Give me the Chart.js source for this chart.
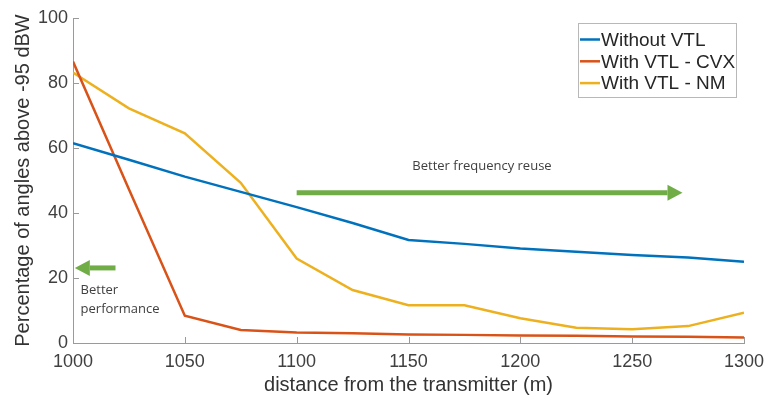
<!DOCTYPE html>
<html>
<head>
<meta charset="utf-8">
<script src="https://cdn.jsdelivr.net/npm/chart.js@4.4.1/dist/chart.umd.min.js"></script>
<style>
  html, body { margin: 0; padding: 0; background: #fff; }
  #wrap { width: 767px; height: 397px; position: relative; }
</style>
</head>
<body>
<div id="wrap"><canvas id="chart"></canvas></div>
<script>
const distances = [1000, 1025, 1050, 1075, 1100, 1125, 1150, 1175, 1200, 1225, 1250, 1275, 1300];
const withoutVtl = [61.5, 56.4, 51.2, 46.5, 41.8, 36.9, 31.7, 30.5, 29.1, 28.1, 27.1, 26.3, 25.0];
const vtlCvx = [86.6, 47.3, 8.4, 4.0, 3.2, 3.0, 2.6, 2.5, 2.3, 2.2, 2.0, 1.9, 1.7];
const vtlNm = [83.2, 72.2, 64.5, 49.3, 26.0, 16.3, 11.6, 11.6, 7.6, 4.7, 4.2, 5.2, 9.3];

const seriesNames = ['Without VTL', 'With VTL - CVX', 'With VTL - NM'];
const seriesColors = ['#0072BD', '#D95319', '#EDB120'];
const xTicks = [1000, 1050, 1100, 1150, 1200, 1250, 1300];
const yTicks = [0, 20, 40, 60, 80, 100];

const axisFont = 'Arial, "Liberation Sans", sans-serif';
const noteFont = '"Open Sans", "Noto Sans", sans-serif';

function toPoints(values) {
  return distances.map((d, i) => ({ x: d, y: values[i] }));
}

// inward tick marks, like matlab
const innerTicks = {
  id: 'innerTicks',
  afterDraw(chart) {
    const { ctx, chartArea, scales } = chart;
    ctx.save();
    ctx.strokeStyle = '#9a9a9a';
    ctx.lineWidth = 1;
    ctx.beginPath();
    xTicks.forEach((v) => {
      const px = Math.round(scales.x.getPixelForValue(v)) + 0.5;
      ctx.moveTo(px, chartArea.bottom);
      ctx.lineTo(px, chartArea.bottom - 6);
    });
    yTicks.forEach((v) => {
      const py = Math.round(scales.y.getPixelForValue(v)) + 0.5;
      ctx.moveTo(chartArea.left, py);
      ctx.lineTo(chartArea.left + 6, py);
    });
    ctx.stroke();
    ctx.restore();
  }
};

function arrow(ctx, x1, y, x2, color) {
  const dir = x2 > x1 ? 1 : -1;
  const head = 15;
  ctx.save();
  ctx.strokeStyle = color;
  ctx.fillStyle = color;
  ctx.lineWidth = 5;
  ctx.beginPath();
  ctx.moveTo(x1, y);
  ctx.lineTo(x2 - dir * head, y);
  ctx.stroke();
  ctx.beginPath();
  ctx.moveTo(x2, y);
  ctx.lineTo(x2 - dir * head, y - 8);
  ctx.lineTo(x2 - dir * head, y + 8);
  ctx.closePath();
  ctx.fill();
  ctx.restore();
}

const notes = {
  id: 'notes',
  afterDatasetsDraw(chart) {
    const { ctx, scales } = chart;
    const X = (v) => scales.x.getPixelForValue(v);
    const Y = (v) => scales.y.getPixelForValue(v);
    arrow(ctx, X(1100), Y(46.2), X(1272.5), '#70AD47');
    arrow(ctx, X(1019), Y(23.1), X(1000.8), '#70AD47');
    ctx.save();
    ctx.fillStyle = '#404040';
    ctx.font = '13px ' + noteFont;
    ctx.textBaseline = 'middle';
    ctx.textAlign = 'left';
    ctx.fillText('Better frequency reuse', X(1151.7), Y(54.3));
    ctx.fillText('Better', X(1003.4), Y(16.3));
    ctx.fillText('performance', X(1003.4), Y(10.4));
    ctx.restore();
  }
};

const boxLegend = {
  id: 'boxLegend',
  afterDraw(chart) {
    const { ctx } = chart;
    const left = 578, top = 23, w = 158, h = 74;
    ctx.save();
    ctx.fillStyle = '#fff';
    ctx.fillRect(left, top, w, h);
    ctx.strokeStyle = '#b8b8b8';
    ctx.lineWidth = 1;
    ctx.strokeRect(left + 0.5, top + 0.5, w, h);
    ctx.font = '19px ' + axisFont;
    ctx.textBaseline = 'middle';
    ctx.textAlign = 'left';
    chart.data.datasets.forEach((ds, i) => {
      const cy = 39.5 + i * 21.8;
      ctx.strokeStyle = ds.borderColor;
      ctx.lineWidth = 2.5;
      ctx.beginPath();
      ctx.moveTo(580, cy);
      ctx.lineTo(600, cy);
      ctx.stroke();
      ctx.fillStyle = '#262626';
      ctx.fillText(ds.label, 601, cy + 1);
    });
    ctx.restore();
  }
};

new Chart(document.getElementById('chart'), {
  type: 'line',
  data: {
    datasets: [withoutVtl, vtlCvx, vtlNm].map((vals, i) => ({
      label: seriesNames[i],
      data: toPoints(vals),
      borderColor: seriesColors[i],
      backgroundColor: seriesColors[i],
      borderWidth: 2.5,
      pointRadius: 0,
      tension: 0,
      fill: false
    }))
  },
  options: {
    responsive: true,
    maintainAspectRatio: false,
    animation: false,
    layout: { padding: { top: 18, right: 23, left: 0, bottom: 0 } },
    plugins: {
      legend: { display: false },
      tooltip: { enabled: false }
    },
    scales: {
      x: {
        type: 'linear',
        min: 1000,
        max: 1300,
        afterFit: (s) => {
          s.height = 54;
          s.paddingLeft = 0;
          s.paddingRight = 0;
        },
        afterBuildTicks: (s) => { s.ticks = xTicks.map((v) => ({ value: v })); },
        ticks: {
          font: { family: axisFont, size: 18 },
          color: '#404040',
          padding: 8,
          maxRotation: 0,
          callback: (v) => String(v)
        },
        grid: { display: true, drawOnChartArea: false, drawTicks: false },
        border: { display: true, color: '#9a9a9a', width: 1 },
        title: {
          display: true,
          text: 'distance from the transmitter (m)',
          font: { family: axisFont, size: 20 },
          color: '#333',
          padding: { top: 0, bottom: 0 }
        }
      },
      y: {
        min: 0,
        max: 100,
        afterFit: (s) => {
          s.width = 73;
          s.paddingTop = 0;
          s.paddingBottom = 0;
        },
        afterBuildTicks: (s) => { s.ticks = yTicks.map((v) => ({ value: v })); },
        ticks: {
          font: { family: axisFont, size: 18 },
          color: '#404040',
          padding: 5,
          callback: (v) => String(v)
        },
        grid: { display: true, drawOnChartArea: false, drawTicks: false },
        border: { display: true, color: '#9a9a9a', width: 1 },
        title: {
          display: true,
          text: 'Percentage of angles above -95 dBW',
          font: { family: axisFont, size: 20 },
          color: '#333',
          padding: { top: 11, bottom: 0 }
        }
      }
    }
  },
  plugins: [innerTicks, notes, boxLegend]
});
</script>
</body>
</html>
